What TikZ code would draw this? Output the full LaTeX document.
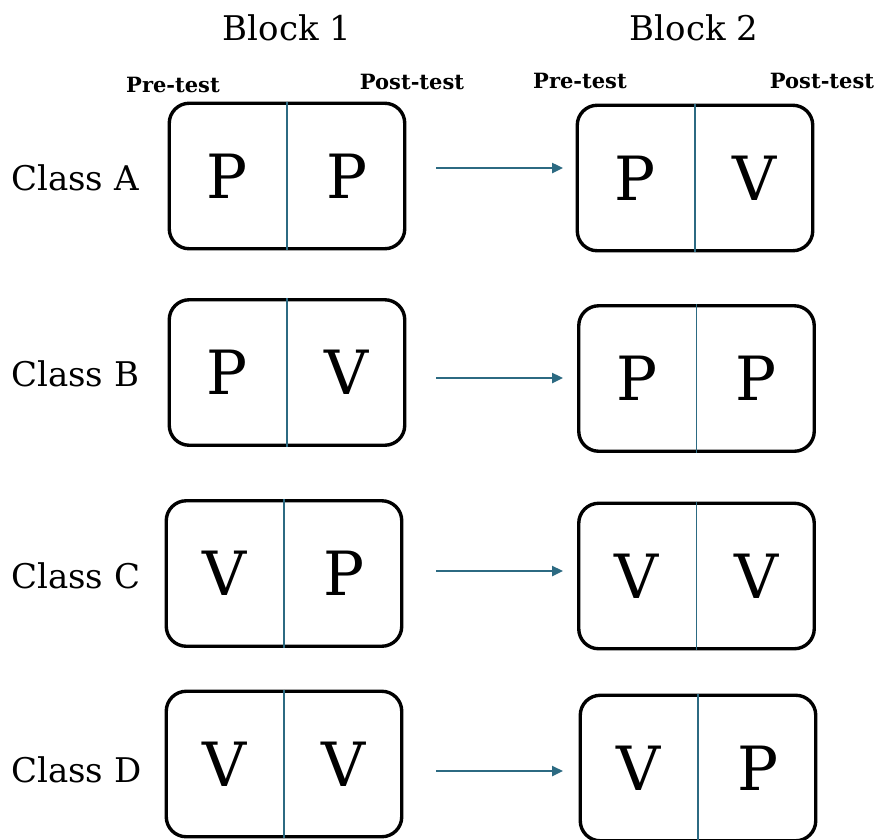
\documentclass[tikz,border=0pt]{standalone}
\usepackage{fontspec}
\setmainfont{DejaVu Serif}
\usetikzlibrary{arrows.meta,calc}
\definecolor{tealline}{HTML}{2C6A82}
\tikzset{
  cellbox/.style={draw=black, line width=3.4pt, rounded corners=20pt,
    minimum width=235.5pt, minimum height=145.5pt, inner sep=0pt},
  divider/.style={draw=tealline, line width=1.9pt},
  letter/.style={font=\fontsize{61}{61}\selectfont, inner sep=0pt},
  classlabel/.style={font=\fontsize{34}{34}\selectfont, anchor=west, inner sep=0pt},
  blocklabel/.style={font=\fontsize{34}{34}\selectfont, inner sep=0pt},
  testlabel/.style={font=\bfseries\fontsize{21}{21}\selectfont, inner sep=0pt},
  flow/.style={draw=tealline, line width=2.4pt,
    -{Triangle[length=11pt,width=10pt]}},
}
% a rounded cell split in two, with one letter per half
\newcommand{\twocell}[4]{%
  \node[cellbox] (#1) at (#2) {};
  \draw[divider] (#1.north) -- (#1.south);
  \node[letter] (#1l) at ($(#1.center)!0.5!(#1.west)$) {#3};
  \node[letter] (#1r) at ($(#1.center)!0.5!(#1.east)$) {#4};
}
\begin{document}
\begin{tikzpicture}[x=1pt,y=-1pt]
\useasboundingbox (0,0) rectangle (883,839);
\fill[white] (0,0) rectangle (883,839);

% column headings
\node[blocklabel] (blk1) at (287,28) {Block 1};
\node[blocklabel] (blk2) at (694,28) {Block 2};
\node[testlabel] (pre1)  at (173,85) {Pre-test};
\node[testlabel] (post1) at (412,82) {Post-test};
\node[testlabel] (pre2)  at (580,81) {Pre-test};
\node[testlabel] (post2) at (822,81) {Post-test};

% row labels
\node[classlabel] (cA) at (11,178) {Class A};
\node[classlabel] (cB) at (11,374) {Class B};
\node[classlabel] (cC) at (11,576) {Class C};
\node[classlabel] (cD) at (11,770) {Class D};

% block 1 and block 2 cells
\twocell{a1}{287,176}{P}{P}
\twocell{a2}{695,178}{P}{V}
\twocell{b1}{287,372.5}{P}{V}
\twocell{b2}{696.5,378.5}{P}{P}
\twocell{c1}{284,573.5}{V}{P}
\twocell{c2}{696.5,576}{V}{V}
\twocell{d1}{284,764}{V}{V}
\twocell{d2}{698,768}{V}{P}

% transitions from block 1 to block 2
\coordinate (sA) at (436,168); \coordinate (eA) at (563,168);
\coordinate (sB) at (436,378); \coordinate (eB) at (563,378);
\coordinate (sC) at (436,571); \coordinate (eC) at (563,571);
\coordinate (sD) at (436,771); \coordinate (eD) at (563,771);
\draw[flow] (sA) -- (eA);
\draw[flow] (sB) -- (eB);
\draw[flow] (sC) -- (eC);
\draw[flow] (sD) -- (eD);
\end{tikzpicture}
\end{document}
